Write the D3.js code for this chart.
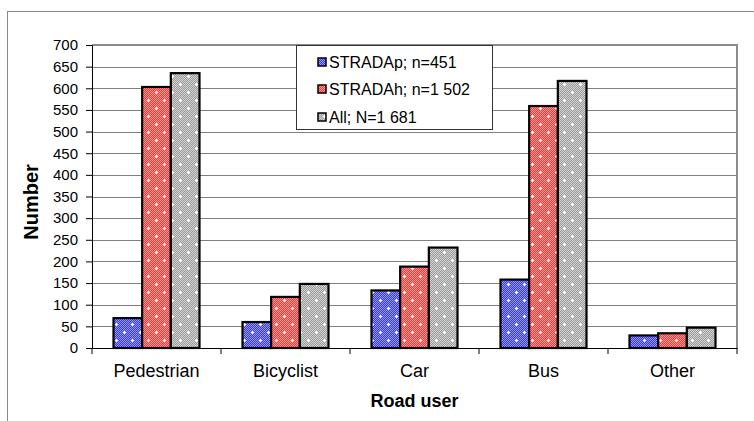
<!DOCTYPE html>
<html><head><meta charset="utf-8">
<script src="https://cdn.jsdelivr.net/npm/d3@7"></script>
<style>body{margin:0;background:#fff}text{font-family:"Liberation Sans",Arial,sans-serif}</style>
</head><body><svg id="c" width="754" height="421"></svg>
<script>
const categories = ["Pedestrian","Bicyclist","Car","Bus","Other"];
const seriesNames = ["STRADAp; n=451","STRADAh; n=1 502","All; N=1 681"];
const stradaP = [69, 60, 133, 158, 29];
const stradaH = [603, 118, 188, 559, 34];
const allN = [635, 148, 232, 617, 47];
const yTicks = [0,50,100,150,200,250,300,350,400,450,500,550,600,650,700];
const seriesValues = [stradaP, stradaH, allN];
const seriesColors = [["#3434ff","#9a9aff"],["#ff3434","#ff9a9a"],["#9a9a9a","#d4d4d4"]];

const svg = d3.select("#c");
const L=92,R=737,T=45,B=348;
// outer frame
svg.append("rect").attr("x",7.5).attr("y",11.5).attr("width",800).attr("height",500)
  .attr("fill","none").attr("stroke","#8a8a8a").attr("stroke-width",1);

// patterns
const defs = svg.append("defs");
seriesColors.forEach((c,i)=>{
  const p = defs.append("pattern").attr("id","p"+i).attr("patternUnits","userSpaceOnUse")
    .attr("width",16).attr("height",16);
  p.append("rect").attr("width",16).attr("height",16).attr("fill",c[0]);
  let d="";
  for(let yy=0;yy<16;yy++)for(let xx=0;xx<16;xx++) if((xx+yy)%2===0) d+=`M${xx},${yy}h1v1h-1z`;
  p.append("path").attr("d",d).attr("fill",c[1]).attr("shape-rendering","crispEdges");
  p.append("path").attr("d","M3,4h3v1h-3zM4,3h1v3h-1zM11,12h3v1h-3zM12,11h1v3h-1z")
    .attr("fill","#fff").attr("shape-rendering","crispEdges");
});

const x0 = d3.scaleBand().domain(categories).range([L,R]).padding(0);
const bw = x0.bandwidth();
const x1 = d3.scaleBand().domain(d3.range(seriesNames.length)).range([bw/6, bw*5/6]).padding(0);
const y = d3.scaleLinear().domain([0,700]).range([B,T]);

// gridlines
svg.append("g").selectAll("line").data(yTicks.filter(v=>v>0&&v<700)).join("line")
  .attr("x1",L).attr("x2",R).attr("y1",d=>Math.round(y(d))+0.5).attr("y2",d=>Math.round(y(d))+0.5)
  .attr("stroke","#808080").attr("stroke-width",1);
// plot border top/right
svg.append("path").attr("d",`M${L},${T}H${R}V${B}`).attr("fill","none")
  .attr("stroke","#8c8c8c").attr("stroke-width",2);

// bars
const g = svg.append("g");
seriesValues.forEach((vals,si)=>{
  g.append("g").selectAll("rect").data(vals).join("rect")
    .attr("x",(d,i)=>x0(categories[i])+x1(si))
    .attr("y",d=>y(d)).attr("width",x1.bandwidth()).attr("height",d=>B-y(d))
    .attr("fill",`url(#p${si})`).attr("stroke","#000").attr("stroke-width",2.2);
});

// y axis
const ya = svg.append("g").attr("transform",`translate(${L},0)`)
  .call(d3.axisLeft(y).tickValues(yTicks).tickSize(6).tickPadding(8).tickFormat(d3.format("d")));
ya.select(".domain").attr("stroke","#000");
ya.selectAll(".tick line").attr("stroke","#000");
ya.selectAll("text").attr("font-size",15).attr("fill","#000").style("font-family","Liberation Sans, Arial");

// x axis
const xa = svg.append("g").attr("transform",`translate(0,${B})`)
  .call(d3.axisBottom(x0).tickSize(0).tickPadding(0).tickFormat(""));
xa.select(".domain").attr("stroke","#000");
xa.selectAll(".tick").remove();
svg.append("g").selectAll("line").data(categories.concat(["_end"])).join("line")
  .attr("x1",(d,i)=>i<categories.length?x0(d):R).attr("x2",(d,i)=>i<categories.length?x0(d):R)
  .attr("y1",B).attr("y2",B+6).attr("stroke","#000");
svg.append("g").selectAll("text").data(categories).join("text")
  .attr("x",d=>x0(d)+bw/2).attr("y",377).attr("text-anchor","middle")
  .attr("font-size",18).text(d=>d);

// axis titles
svg.append("text").attr("x",(L+R)/2).attr("y",407).attr("text-anchor","middle")
  .attr("font-size",18).attr("font-weight","bold").text("Road user");
svg.append("text").attr("transform","translate(38,202) rotate(-90)").attr("text-anchor","middle")
  .attr("font-size",20).attr("font-weight","bold").text("Number");

// legend
const lg = svg.append("g");
lg.append("rect").attr("x",296.5).attr("y",45.5).attr("width",196).attr("height",84)
  .attr("fill","#fff").attr("stroke","#333").attr("stroke-width",1);
const ly = [62,89,117];
seriesNames.forEach((n,i)=>{
  lg.append("rect").attr("x",318).attr("y",ly[i]-4).attr("width",8).attr("height",8)
    .attr("fill",`url(#p${i})`).attr("stroke","#000").attr("stroke-width",1.5);
  lg.append("text").attr("x",329).attr("y",ly[i]+6).attr("font-size",16).text(n);
});
</script></body></html>
